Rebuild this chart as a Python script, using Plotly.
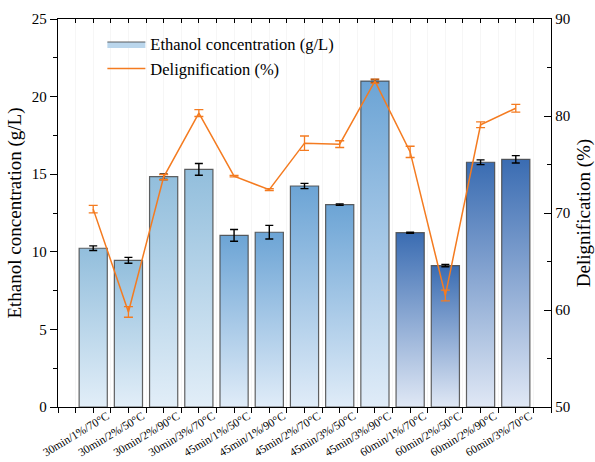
import plotly.graph_objects as go

conditions = ["30min/1%/70°C", "30min/2%/50°C", "30min/2%/90°C", "30min/3%/70°C",
              "45min/1%/50°C", "45min/1%/90°C", "45min/2%/70°C", "45min/3%/50°C",
              "45min/3%/90°C", "60min/1%/70°C", "60min/2%/50°C", "60min/2%/90°C",
              "60min/3%/70°C"]
ethanol = [10.23, 9.45, 14.84, 15.31, 11.06, 11.26, 14.24, 13.04, 21.0, 11.23, 9.11, 15.77, 15.96]
ethanol_err = [0.15, 0.19, 0.18, 0.38, 0.38, 0.44, 0.17, 0.05, 0.1, 0.03, 0.07, 0.15, 0.24]
delig = [70.4, 59.8, 73.7, 80.3, 73.8, 72.4, 77.2, 77.1, 83.6, 76.3, 61.5, 79.1, 80.8]
delig_err = [0.38, 0.55, 0.27, 0.35, 0.08, 0.1, 0.74, 0.35, 0.2, 0.58, 0.55, 0.3, 0.4]
time_group = [30, 30, 30, 30, 45, 45, 45, 45, 45, 60, 60, 60, 60]

top_colors = {30: "#92bedc", 45: "#6ca4d5", 60: "#3a6cb2"}
bottom_colors = {30: "#e2eef8", 45: "#e0ecf8", 60: "#e0e8f5"}
FONT = "Liberation Serif"
BAR_W = 0.8
idx = list(range(len(conditions)))

fig = go.Figure()

# legend entry for the bars
fig.add_trace(go.Scatter(
    x=[None], y=[None], mode="lines", fill="toself", fillcolor="#bad6ec",
    line=dict(color="rgba(70,70,70,0.85)", width=1.2),
    name="Ethanol concentration (g/L)", hoverinfo="skip",
))

for i, v in enumerate(ethanol):
    g = time_group[i]
    fig.add_trace(go.Scatter(
        x=[i - BAR_W / 2, i + BAR_W / 2, i + BAR_W / 2, i - BAR_W / 2, i - BAR_W / 2],
        y=[0, 0, v, v, 0],
        mode="lines", fill="toself",
        fillgradient=dict(type="vertical",
                          colorscale=[[0, bottom_colors[g]], [1, top_colors[g]]]),
        line=dict(color="rgba(70,70,70,0.85)", width=1.2),
        showlegend=False, hoverinfo="skip",
    ))

fig.add_trace(go.Scatter(
    x=idx, y=ethanol, mode="markers", marker=dict(opacity=0, size=1),
    error_y=dict(type="data", array=ethanol_err, color="black", thickness=1.4, width=4),
    showlegend=False, hoverinfo="skip",
))

fig.add_trace(go.Scatter(
    x=idx, y=delig, yaxis="y2", mode="lines",
    line=dict(color="#f47b20", width=1.5),
    error_y=dict(type="data", array=delig_err, color="#f47b20", thickness=1.3, width=4.5),
    name="Delignification (%)",
))

# dummy trace to enable top mirrored axis
fig.add_trace(go.Scatter(x=[0], y=[0], xaxis="x3", mode="markers",
                         marker=dict(opacity=0), showlegend=False, hoverinfo="skip"))

tickfont = dict(family=FONT, size=15, color="black")

fig.update_layout(
    width=595, height=462,
    margin=dict(l=58, r=44, t=19, b=55),
    plot_bgcolor="white", paper_bgcolor="white",
    font=dict(family=FONT, color="black"),
    showlegend=True,
    legend=dict(x=0.09, y=0.98, xanchor="left", yanchor="top",
                font=dict(family=FONT, size=16.5, color="black"),
                bgcolor="rgba(0,0,0,0)", itemwidth=38, tracegroupgap=0,
                traceorder="normal"),
    xaxis=dict(range=[-1, 13], tickmode="array", tickvals=idx, ticktext=conditions,
               tickangle=-31, tickfont=dict(family=FONT, size=11.5, color="black"),
               ticklabelshift=14, ticklabelstandoff=-8,
               showline=True, linecolor="black", linewidth=1.3, automargin=False,
               ticks="outside", ticklen=5, tickcolor="black", tickwidth=1.2,
               showgrid=False, zeroline=False,
               minor=dict(tick0=0, dtick=0.5, ticks="outside", ticklen=5,
                          tickcolor="black", tickwidth=1.2,
                          showgrid=True, gridcolor="#f6f6f6", gridwidth=1)),
    xaxis3=dict(range=[-1, 13], overlaying="x", anchor="y", side="top",
                tickmode="linear", tick0=0, dtick=1, showticklabels=False,
                showline=True, linecolor="black", linewidth=1.3, automargin=False,
                ticks="inside", ticklen=4, tickcolor="black", tickwidth=1.2,
                showgrid=False, zeroline=False,
                minor=dict(tick0=0, dtick=0.5, ticks="inside", ticklen=4,
                           tickcolor="black", tickwidth=1.2, showgrid=False)),
    yaxis=dict(range=[0, 25], tickmode="linear", tick0=0, dtick=5,
               tickfont=tickfont, automargin=False,
               title=dict(text="Ethanol concentration (g/L)",
                          font=dict(family=FONT, size=19, color="black"), standoff=5),
               showline=True, linecolor="black", linewidth=1.3,
               ticks="outside", ticklen=7, tickcolor="black", tickwidth=1.2,
               showgrid=False, zeroline=False,
               minor=dict(dtick=2.5, ticks="outside", ticklen=4,
                          tickcolor="black", tickwidth=1.2, showgrid=False)),
    yaxis2=dict(range=[50, 90], overlaying="y", side="right", anchor="x",
                tickmode="linear", tick0=50, dtick=10, tickfont=tickfont, automargin=False,
                title=dict(text="Delignification (%)",
                           font=dict(family=FONT, size=19, color="black"), standoff=10),
                showline=True, linecolor="black", linewidth=1.3,
                ticks="inside", ticklen=7, tickcolor="black", tickwidth=1.2,
                showgrid=False, zeroline=False,
                minor=dict(dtick=5, ticks="inside", ticklen=4,
                           tickcolor="black", tickwidth=1.2, showgrid=False)),
)

fig.write_html("out.html", config={"displayModeBar": False},
               post_script="document.body.style.margin='0';document.body.style.padding='0';")
